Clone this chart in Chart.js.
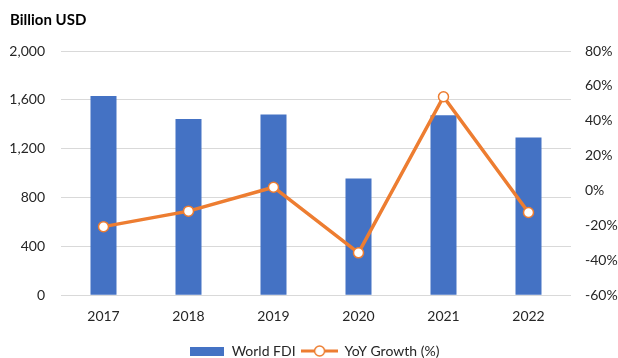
<!DOCTYPE html>
<html>
<head>
<meta charset="utf-8">
<script src="https://cdn.jsdelivr.net/npm/chart.js@4"></script>
<style>
  html, body { margin: 0; padding: 0; background: #fff; }
  #wrap { width: 618px; height: 358px; position: relative; }
</style>
</head>
<body>
<div id="wrap"><canvas id="c" width="618" height="358"></canvas></div>
<script>
const categories = ['2017', '2018', '2019', '2020', '2021', '2022'];
const worldFDI = [1632, 1444, 1480, 956, 1474, 1291];
const yoyGrowth = [-20.7, -11.8, 1.9, -35.7, 53.8, -12.6];
const leftTicks = [0, 400, 800, 1200, 1600, 2000];
const rightTicks = [-60, -40, -20, 0, 20, 40, 60, 80];
const seriesNames = ['World FDI', 'YoY Growth (%)'];
const titleText = 'Billion USD';

const BLUE = '#4472C4';
const ORANGE = '#ED7D31';
const FONT = 'Lato, "Open Sans", sans-serif';

function makeBarIcon() {
  const c = document.createElement('canvas');
  c.width = 34; c.height = 9;
  const g = c.getContext('2d');
  g.fillStyle = BLUE;
  g.fillRect(0, 0, 34, 9);
  return c;
}
function makeLineIcon() {
  const c = document.createElement('canvas');
  c.width = 37; c.height = 14;
  const g = c.getContext('2d');
  g.strokeStyle = ORANGE;
  g.lineWidth = 3;
  g.beginPath(); g.moveTo(0, 7); g.lineTo(37, 7); g.stroke();
  g.beginPath(); g.arc(18.5, 7, 5, 0, Math.PI * 2);
  g.fillStyle = '#fff'; g.fill();
  g.lineWidth = 1.5; g.stroke();
  return c;
}
const barIcon = makeBarIcon();
const lineIcon = makeLineIcon();

new Chart(document.getElementById('c'), {
  type: 'bar',
  data: {
    labels: categories,
    datasets: [
      {
        type: 'bar',
        label: seriesNames[0],
        data: worldFDI,
        backgroundColor: BLUE,
        yAxisID: 'y',
        order: 1,
        barPercentage: 0.306,
        categoryPercentage: 1.0
      },
      {
        type: 'line',
        label: seriesNames[1],
        data: yoyGrowth,
        borderColor: ORANGE,
        borderWidth: 3.5,
        pointRadius: 5,
        pointBorderWidth: 1.5,
        pointBackgroundColor: '#fff',
        pointBorderColor: ORANGE,
        tension: 0,
        yAxisID: 'y1',
        order: 0
      }
    ]
  },
  options: {
    responsive: false,
    animation: false,
    devicePixelRatio: 1,
    layout: { padding: { left: 10, right: 0, top: 0, bottom: -10 } },
    scales: {
      x: {
        grid: { display: false, drawTicks: false },
        border: { display: false },
        ticks: { color: '#262626', font: { family: FONT, size: 14 }, padding: 13 }
      },
      y: {
        position: 'left',
        min: 0, max: 2000,
        afterBuildTicks: (axis) => { axis.ticks = leftTicks.map(v => ({ value: v })); },
        afterFit: (axis) => { axis.width = 51; },
        grid: { color: '#d9d9d9', lineWidth: 1, drawTicks: false },
        border: { display: false },
        ticks: {
          color: '#262626', font: { family: FONT, size: 14 }, padding: 16,
          callback: (v) => v.toLocaleString('en-US')
        }
      },
      y1: {
        position: 'right',
        min: -60, max: 80,
        afterBuildTicks: (axis) => { axis.ticks = rightTicks.map(v => ({ value: v })); },
        afterFit: (axis) => { axis.width = 47; },
        grid: { display: false, drawTicks: false },
        border: { display: false },
        ticks: {
          color: '#262626', font: { family: FONT, size: 14 }, padding: 14,
          callback: (v) => v + '%'
        }
      }
    },
    plugins: {
      tooltip: { enabled: false },
      title: {
        display: true,
        text: titleText,
        align: 'start',
        color: '#000',
        font: { family: FONT, size: 15, weight: 'bold' },
        padding: { top: 11, bottom: 22 }
      },
      legend: {
        position: 'bottom',
        labels: {
          color: '#262626',
          font: { family: FONT, size: 14 },
          usePointStyle: true,
          pointStyleWidth: 36,
          padding: 6,
          generateLabels: () => [
            { text: seriesNames[0], pointStyle: barIcon, fontColor: '#262626', datasetIndex: 0, lineWidth: 0 },
            { text: seriesNames[1], pointStyle: lineIcon, fontColor: '#262626', datasetIndex: 1, lineWidth: 0 }
          ]
        }
      }
    }
  }
});
</script>
</body>
</html>
